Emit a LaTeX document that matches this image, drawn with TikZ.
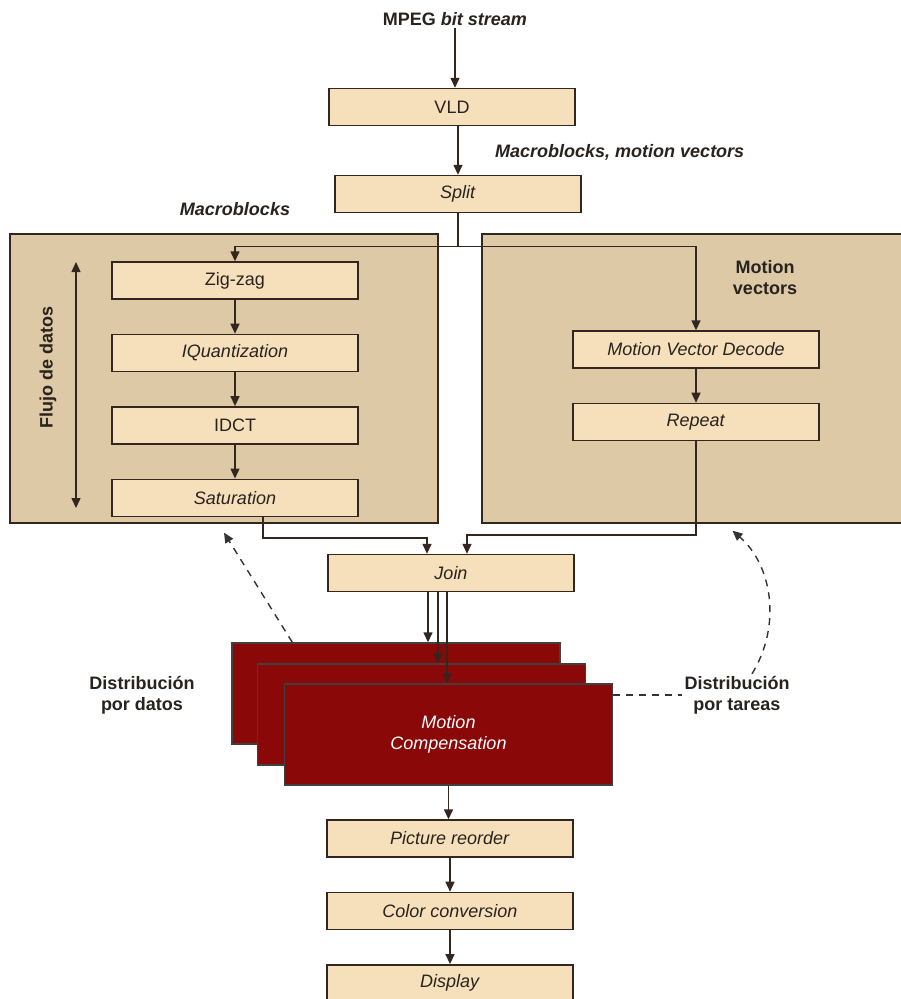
\documentclass[tikz,border=0pt]{standalone}
\usepackage{fontspec}
\setmainfont{Liberation Sans}
\usetikzlibrary{arrows.meta, positioning}
\definecolor{boxfill}{RGB}{246,224,188}
\definecolor{panelfill}{RGB}{221,201,166}
\definecolor{mcred}{RGB}{138,8,8}
\definecolor{linecol}{RGB}{50,38,30}
\definecolor{textcol}{RGB}{40,35,30}

\begin{document}
\begin{tikzpicture}[
    x=1pt, y=-1pt,
    >={Triangle[length=10pt,width=9pt]},
    font=\fontsize{18}{21}\selectfont,
    stage/.style={draw=linecol, fill=boxfill, text=textcol, line width=1.4pt, minimum width=246pt, minimum height=37pt, inner sep=0pt},
    panel/.style={draw=linecol, fill=panelfill, line width=1.4pt, inner sep=0pt},
    mcbox/.style={draw=black!75, fill=mcred, line width=1.4pt, minimum width=328pt, minimum height=101pt, inner sep=0pt},
    tag/.style={font=\fontsize{18}{21}\selectfont\bfseries, text=textcol, align=center, inner sep=2pt},
    arrow/.style={->, line width=1.4pt, linecol},
    dasharrow/.style={line width=1.4pt, black!80, dash pattern=on 7pt off 6pt}
  ]
    \fill[white] (0,0) rectangle (901,999);
    \useasboundingbox (0,0) rectangle (901,999);

    % containers
    \node[panel, minimum width=428pt, minimum height=289pt] (datapanel) at (224,378.5) {};
    \node[panel, minimum width=423pt, minimum height=289pt] (taskpanel) at (693.5,378.5) {};

    % main column
    \node[tag] (mpeg) at (455,19) {MPEG \textit{bit stream}};
    \node[stage] (vld) at (452,107) {VLD};
    \node[stage] (split) at (458,194) {\textit{Split}};
    \node[tag, anchor=west] (mvtag) at (493,152) {\textit{Macroblocks, motion vectors}};
    \node[tag] (mbtag) at (235,209) {\textit{Macroblocks}};

    % data branch
    \node[stage] (zig) at (235,280.5) {Zig-zag};
    \node[stage, below=34pt of zig] (iq) {\textit{IQuantization}};
    \node[stage, below=34pt of iq] (idct) {IDCT};
    \node[stage, below=34pt of idct] (sat) {\textit{Saturation}};
    \node[tag, rotate=90] (flujo) at (48,367) {Flujo de datos};
    \coordinate (flowtop) at (76,262);
    \coordinate (flowbot) at (76,508);

    % task branch
    \node[tag] (mvlabel) at (765,278) {Motion\\vectors};
    \node[stage] (mvd) at (696,349.5) {\textit{Motion Vector Decode}};
    \node[stage, below=34pt of mvd] (rep) {\textit{Repeat}};

    \node[stage] (join) at (451,573) {\textit{Join}};

    % stacked motion compensation
    \node[mcbox] (mc1) at (396,693.5) {};
    \node[mcbox] (mc2) at (421.5,714.5) {};
    \node[mcbox, text=white, align=center] (mc3) at (448.5,734.5) {\textit{Motion}\\\textit{Compensation}};

    \node[stage] (pic) at (450,838.5) {\textit{Picture reorder}};
    \node[stage, below=34pt of pic] (col) {\textit{Color conversion}};
    \node[stage, below=34pt of col] (disp) {\textit{Display}};

    \node[tag] (datos) at (142,695) {Distribución\\por datos};
    \node[tag] (tareas) at (737,695) {Distribución\\por tareas};

    % connectors
    \draw[arrow] (mpeg) -- (mpeg |- vld.north);
    \draw[arrow] (vld.south -| split) -- (split);
    \draw[line width=1.4pt, linecol] (split.south) -- ++(0,33) coordinate (fork);
    \draw[arrow] (fork) -| (zig.north);
    \draw[arrow] (fork) -| (mvd.north);
    \draw[arrow] (zig) -- (iq);
    \draw[arrow] (iq) -- (idct);
    \draw[arrow] (idct) -- (sat);
    \draw[arrow] (mvd) -- (rep);
    \draw[arrow, <->] (flowtop) -- (flowbot);
    \draw[arrow] ([xshift=28pt]sat.south) -- ++(0,21) -| ([xshift=-24pt]join.north);
    \draw[arrow] (rep.south) -- ++(0,94) -| ([xshift=16pt]join.north);

    \coordinate (j1) at ([xshift=-23pt]join.south);
    \coordinate (j2) at ([xshift=-13pt]join.south);
    \coordinate (j3) at ([xshift=-4pt]join.south);
    \draw[arrow] (j1) -- (j1 |- mc1.north);
    \draw[arrow] (j2) -- (j2 |- mc2.north);
    \draw[arrow] (j3) -- (j3 |- mc3.north);

    \draw[arrow] (mc3.south) -- (mc3.south |- pic.north);
    \draw[arrow] (pic) -- (col);
    \draw[arrow] (col) -- (disp);

    % distribution hints
    \draw[dasharrow, ->] ([xshift=61pt]mc1.north west) -- ([yshift=-9pt]datapanel.south);
    \draw[dasharrow] (tareas.west -| mc3.east) -- (tareas.west);
    \draw[dasharrow, ->] ([xshift=15pt]tareas.north) .. controls (782,625) and (772,565) .. ([xshift=39pt,yshift=-7pt]taskpanel.south);
  \end{tikzpicture}
\end{document}
